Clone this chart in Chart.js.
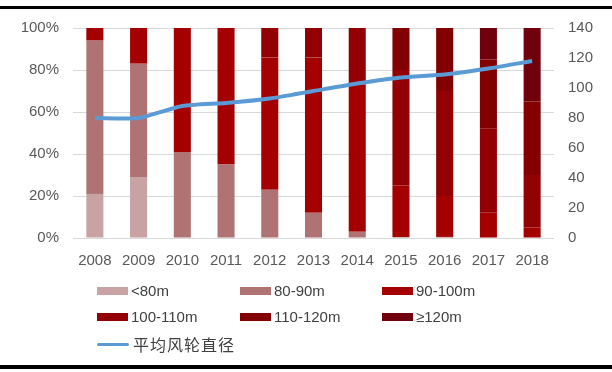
<!DOCTYPE html>
<html>
<head>
<meta charset="utf-8">
<script src="https://cdn.jsdelivr.net/npm/chart.js@4/dist/chart.umd.min.js"></script>
<style>
  html, body { margin: 0; padding: 0; background: #ffffff; }
  #wrap { position: relative; width: 612px; height: 372px; overflow: hidden; background: #fff; }
  #c { position: absolute; left: 0; top: 0; }
  .rule { position: absolute; left: 0; width: 612px; background: #000; }
  .lg { position: absolute; font-family: "Liberation Sans", Arial, sans-serif; font-size: 15px; color: #404040; line-height: 16px; white-space: nowrap; }
  .sw { position: absolute; width: 31px; height: 8px; }
  .lsw { position: absolute; width: 32px; height: 3px; background: #5b9bd5; border-radius: 2px; }
  .cjk { font-family: "Noto Sans CJK SC", sans-serif; font-size: 16px; letter-spacing: 1px; }
</style>
</head>
<body>
<div id="wrap">
  <canvas id="c" width="612" height="372"></canvas>
  <div class="rule" style="top:6px;height:3px;"></div>
  <div class="rule" style="top:365px;height:4px;"></div>
  <div id="legend"></div>
</div>
<script>
const categories = ["2008","2009","2010","2011","2012","2013","2014","2015","2016","2017","2018"];
const seriesNames = ["<80m","80-90m","90-100m","100-110m","110-120m","≥120m"];
const lt80     = [21, 29, 0, 0, 0, 0, 0, 0, 0, 0, 0];
const s80_90   = [73, 54, 41, 35, 23, 12, 3, 0.5, 0.5, 0, 0];
const s90_100  = [6, 17, 59, 65, 63, 74, 70, 24.5, 19.5, 12, 5];
const s100_110 = [0, 0, 0, 0, 14, 14, 27, 55, 50, 40, 25];
const s110_120 = [0, 0, 0, 0, 0, 0, 0, 20, 30, 33, 35];
const ge120    = [0, 0, 0, 0, 0, 0, 0, 0, 0, 15, 35];
const avgDiameterName = "平均风轮直径";
const avgDiameter = [80, 80, 88, 90, 93, 98, 103, 107, 109, 113, 118];
const leftTicks = [0, 20, 40, 60, 80, 100];
const rightTicks = [0, 20, 40, 60, 80, 100, 120, 140];

const barColors = ["#c9a2a3", "#b07374", "#a40000", "#920004", "#820000", "#70000c"];
const barSeries = [lt80, s80_90, s90_100, s100_110, s110_120, ge120];

const datasets = barSeries.map((d, i) => ({
  type: 'bar',
  label: seriesNames[i],
  data: d,
  backgroundColor: barColors[i],
  borderWidth: 0,
  yAxisID: 'y',
  stack: 's',
  order: 1,
  barPercentage: 0.39,
  categoryPercentage: 1.0
}));
datasets.push({
  type: 'line',
  label: avgDiameterName,
  data: avgDiameter,
  borderColor: '#5b9bd5',
  backgroundColor: '#5b9bd5',
  borderWidth: 4,
  pointRadius: 0,
  tension: 0.2,
  yAxisID: 'y1',
  order: 0
});

const tickFont = { family: "'Liberation Sans', Arial, sans-serif", size: 15 };

new Chart(document.getElementById('c'), {
  data: { labels: categories, datasets },
  options: {
    responsive: false,
    animation: false,
    layout: { padding: { top: 28, bottom: 0, left: 0, right: 0 } },
    plugins: { legend: { display: false }, tooltip: { enabled: false } },
    scales: {
      x: {
        stacked: true,
        grid: { display: false, drawTicks: false },
        border: { display: false },
        ticks: { font: tickFont, color: '#595959', padding: 14, maxRotation: 0 },
        afterFit: (s) => { s.height = 134; }
      },
      y: {
        stacked: true,
        position: 'left',
        min: 0, max: 100,
        afterBuildTicks: (s) => { s.ticks = leftTicks.map(v => ({ value: v })); },
        grid: { color: '#d9d9d9', lineWidth: 1, drawTicks: false },
        border: { display: false },
        ticks: { font: tickFont, color: '#595959', padding: 14, callback: (v) => v + '%' },
        afterFit: (s) => { s.width = 73; }
      },
      y1: {
        position: 'right',
        min: 0, max: 140,
        afterBuildTicks: (s) => { s.ticks = rightTicks.map(v => ({ value: v })); },
        grid: { display: false, drawTicks: false },
        border: { display: false },
        ticks: { font: tickFont, color: '#595959', padding: 14 },
        afterFit: (s) => { s.width = 58; }
      }
    }
  }
});

// HTML legend
const legend = document.getElementById('legend');
const colX = [97, 240, 382];
const rowY = [291, 317, 344];
seriesNames.forEach((name, i) => {
  const cx = colX[i % 3], cy = rowY[Math.floor(i / 3)];
  const sw = document.createElement('div');
  sw.className = 'sw';
  sw.style.left = cx + 'px';
  sw.style.top = (cy - 4) + 'px';
  sw.style.background = barColors[i];
  legend.appendChild(sw);
  const t = document.createElement('div');
  t.className = 'lg';
  t.style.left = (cx + 34) + 'px';
  t.style.top = (cy - 8) + 'px';
  t.textContent = name;
  legend.appendChild(t);
});
const lsw = document.createElement('div');
lsw.className = 'lsw';
lsw.style.left = colX[0] + 'px';
lsw.style.top = (rowY[2] - 1) + 'px';
legend.appendChild(lsw);
const lt = document.createElement('div');
lt.className = 'lg cjk';
lt.style.left = (colX[0] + 36) + 'px';
lt.style.top = (rowY[2] - 10) + 'px';
lt.style.lineHeight = '20px';
lt.textContent = avgDiameterName;
legend.appendChild(lt);
</script>
</body>
</html>
